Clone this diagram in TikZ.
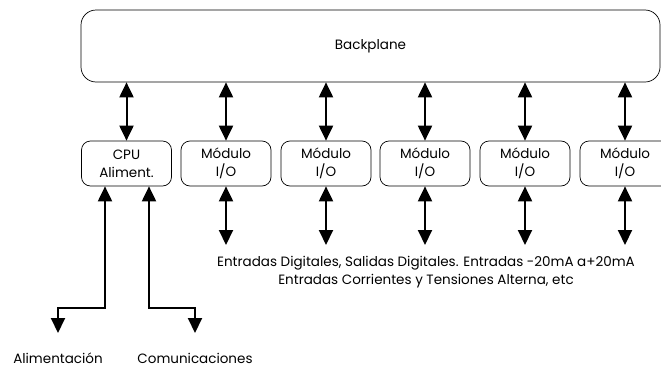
\documentclass[tikz,border=0pt]{standalone}
\usepackage{fontspec}
\setmainfont{Poppins}
\usetikzlibrary{arrows.meta}
\tikzset{
  modbox/.style={draw,line width=0.7pt,rounded corners=9pt,minimum width=90pt,minimum height=45pt,align=center,inner sep=0pt},
  bus/.style={line width=2pt,{Triangle[length=15pt,width=14pt]}-{Triangle[length=15pt,width=14pt]}},
  every node/.style={font=\fontsize{13.5}{18}\selectfont}
}
\begin{document}
\begin{tikzpicture}[x=1pt,y=-1pt]
  \clip (0,0) rectangle (661,367);
  \node[draw,line width=0.7pt,rounded corners=15pt,minimum width=579pt,minimum height=72pt] (bp) at (370.5,46) {Backplane};
  \node[modbox] (cpu) at (126.5,163.5) {CPU\\Aliment.};
  \foreach \i/\x in {1/226,2/326,3/425,4/525,5/625}{
    \node[modbox] (m\i) at (\x,163.5) {Módulo\\I/O};
    \coordinate (e\i) at (\x,245);
    \draw[bus] (m\i.south) -- (e\i);
  }
  \foreach \n in {cpu,m1,m2,m3,m4,m5}
    \draw[bus] (\n.north) -- (\n.north |- bp.south);
  % salidas de la CPU
  \coordinate (pw) at (58,333);
  \coordinate (com) at (195,333);
  \draw[bus] ([xshift=-21.5pt]cpu.south) -- ++(0,122) -| (pw);
  \draw[bus] ([xshift=22.5pt]cpu.south) -- ++(0,122) -| (com);
  \node[anchor=base] (al) at (58,363) {Alimentación};
  \node[anchor=base] (co) at (195,363) {Comunicaciones};
  \node[align=center] (io) at (426,272) {Entradas Digitales, Salidas Digitales. Entradas -20mA a+20mA\\Entradas Corrientes y Tensiones Alterna, etc};
\end{tikzpicture}
\end{document}
